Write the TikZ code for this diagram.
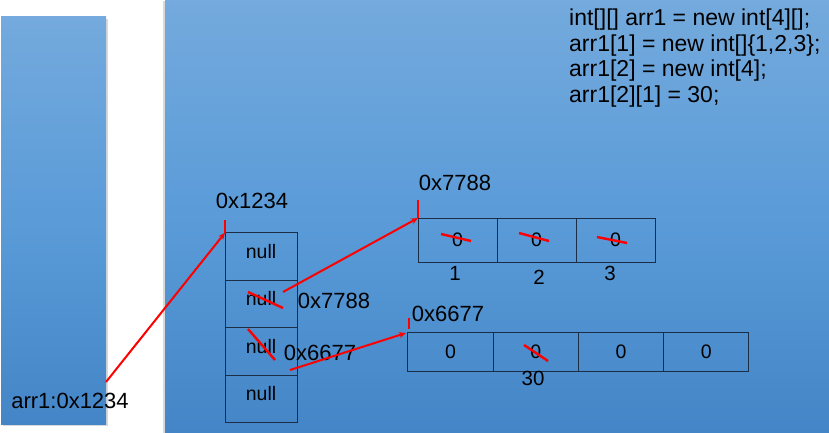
\documentclass[tikz,border=0pt]{standalone}
\usepackage{fontspec}
\setmainfont{Liberation Sans}
\usepackage{tikz}
\usetikzlibrary{arrows.meta,positioning,shadows}
\definecolor{paneltop}{HTML}{74AADD}
\definecolor{panelmid}{HTML}{5A9BD8}
\definecolor{panelbot}{HTML}{4485C7}
\definecolor{cellline}{HTML}{1C2E45}
\tikzset{
  panel/.style={top color=paneltop, bottom color=panelbot, middle color=panelmid, draw=none},
  cell/.style={draw=cellline, line width=1pt, inner sep=0pt, outer sep=0pt},
  ptr/.style={red, line width=2pt, -{Stealth[length=7pt,width=6pt]}},
  strike/.style={red, line width=2.4pt},
  tick/.style={red, line width=2.4pt},
  addr/.style={font=\fontsize{22}{24}\selectfont, inner sep=0pt},
  val/.style={font=\fontsize{19.5}{22}\selectfont, inner sep=0pt}
}

\begin{document}
\begin{tikzpicture}[x=1pt,y=-1pt]
\useasboundingbox[fill=white] (0,0) rectangle (829,433);
% stack and heap
\fill[gray!30] (3,19) rectangle (108,426);
\fill[gray!30] (163,1) rectangle (166,433);
\shade[panel] (1,17) rectangle (106,424);
\shade[panel] (165,1) rectangle (829,433);
\node[addr] (stackvar) at (70,401) {arr1:0x1234};
\coordinate (stackout) at (106,382);

% source code
\node[anchor=north west, align=left, inner sep=0pt, font=\fontsize{23}{25.5}\selectfont] (code) at (569,9)
  {int[][] arr1 = new int[4][];\\arr1[1] = new int[]\{1,2,3\};\\arr1[2] = new int[4];\\arr1[2][1] = 30;};

% outer array
\node[cell, minimum width=72pt, minimum height=47.5pt] (c0) at (261,256.5) {};
\node[cell, minimum width=72pt, minimum height=47.5pt, below=0pt of c0] (c1) {};
\node[cell, minimum width=72pt, minimum height=47.5pt, below=0pt of c1] (c2) {};
\node[cell, minimum width=72pt, minimum height=47.5pt, below=0pt of c2] (c3) {};
\foreach \i in {0,...,3}
  \node[val] (n\i) at ([yshift=5pt]c\i.center) {null};
\node[addr] (addrouter) at (252,201) {0x1234};
\draw[tick] (c0.north west) -- ++(0,-13);

% inner array 1
\node[cell, minimum width=79pt, minimum height=44pt] (a0) at (457.5,240) {};
\node[cell, minimum width=79pt, minimum height=44pt, right=0pt of a0] (a1) {};
\node[cell, minimum width=79pt, minimum height=44pt, right=0pt of a1] (a2) {};
\foreach \i in {0,1,2}
  \node[val] (z\i) at (a\i.center) {0};
\node[val, font=\fontsize{20.5}{22}\selectfont] (i1) at (455,273) {1};
\node[val, font=\fontsize{20.5}{22}\selectfont] (i2) at (539,277) {2};
\node[val, font=\fontsize{20.5}{22}\selectfont] (i3) at (610,273) {3};
\node[addr] (addrone) at (455,183) {0x7788};
\draw[tick] (a0.north west) -- ++(0,-18);
\draw[strike] (441,234) -- (471,241);
\draw[strike] (519,233) -- (549,241);
\draw[strike] (597,237) -- (627,243);

% inner array 2
\node[cell, minimum width=85.25pt, minimum height=39pt] (b0) at (450.6,351.5) {};
\node[cell, minimum width=85.25pt, minimum height=39pt, right=0pt of b0] (b1) {};
\node[cell, minimum width=85.25pt, minimum height=39pt, right=0pt of b1] (b2) {};
\node[cell, minimum width=85.25pt, minimum height=39pt, right=0pt of b2] (b3) {};
\foreach \i in {0,...,3}
  \node[val] (y\i) at (b\i.center) {0};
\node[addr] (addrtwo) at (448,314) {0x6677};
\draw[tick] (409,318) -- (409,329);
\draw[strike] (524,345) -- (548,361);
\node[val, font=\fontsize{20.5}{22}\selectfont] (thirty) at (533,378) {30};

% references
\node[addr] (refone) at (334,301) {0x7788};
\node[addr] (reftwo) at (320,353) {0x6677};
\draw[strike] (248,292) -- (283,308);
\draw[strike] (248,329) -- (275,360);
\coordinate (fromone) at (283,292);
\coordinate (fromtwo) at (290,370);
\draw[ptr] (stackout) -- (c0.north west);
\draw[ptr] (fromone) -- (a0.north west);
\draw[ptr] (fromtwo) -- ([xshift=-2pt,yshift=-1pt]b0.north west);
\end{tikzpicture}
\end{document}
